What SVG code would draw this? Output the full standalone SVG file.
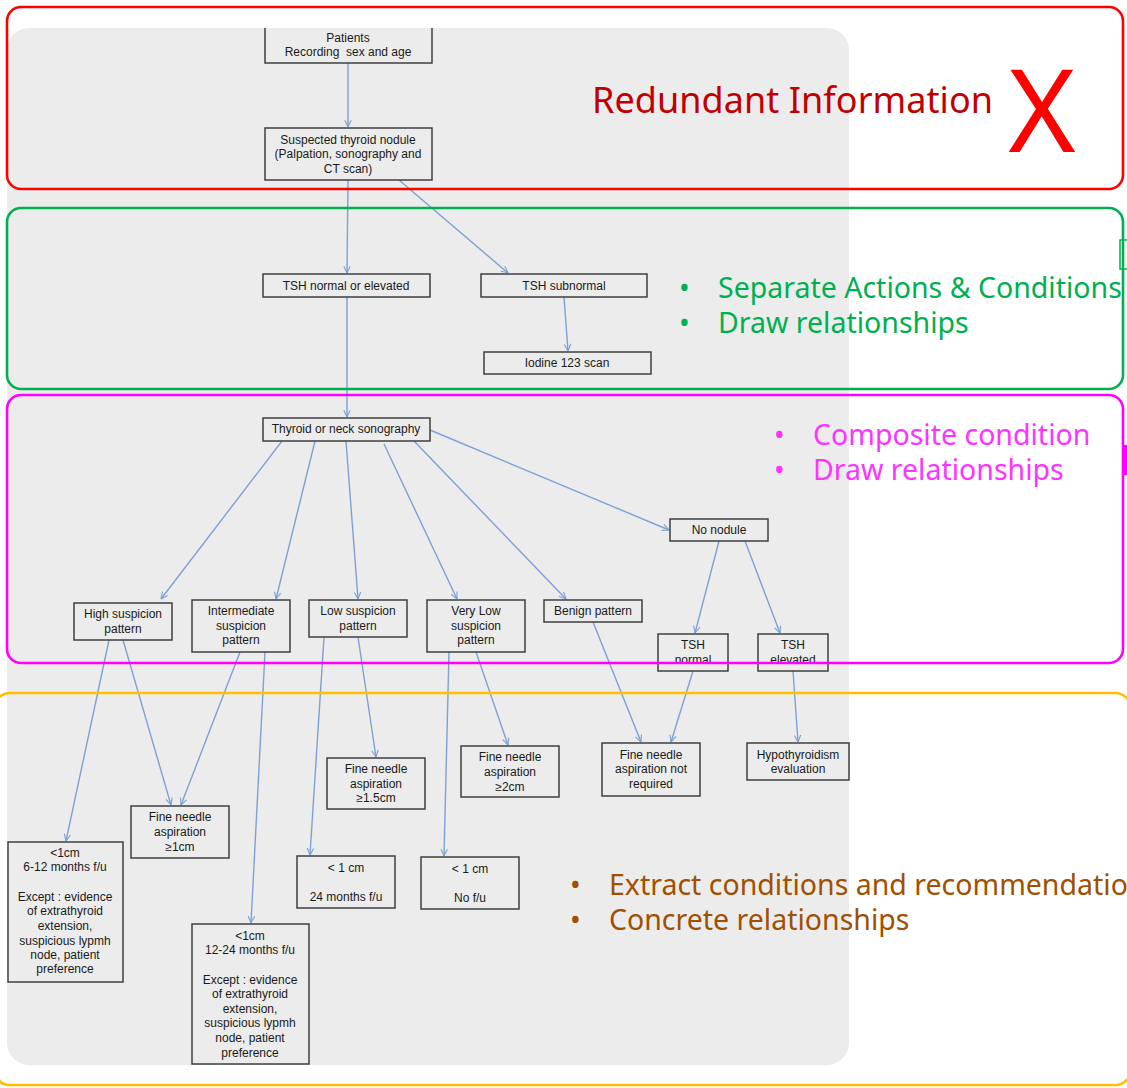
<svg xmlns="http://www.w3.org/2000/svg" width="1127" height="1088" viewBox="0 0 1127 1088">
  <style>
    .bg { fill: #ececec; }
    .node rect, .node path { fill: #ececec; stroke: #3f3f3f; stroke-width: 1.5; }
    .node text { font-family: "Liberation Sans", Arial, sans-serif; font-size: 12px; fill: #1a1a1a; text-anchor: middle; white-space: pre; }
    .edges line { stroke: #7ba2d6; stroke-width: 1.4; fill: none; marker-end: url(#arrow); }
    .frame { fill: none; stroke-width: 2.6; }
    .note { font-family: "Noto Sans", "Open Sans", sans-serif; font-size: 28.5px; }
  </style>
  <defs>
    <marker id="arrow" viewBox="0 0 10 10" refX="9.5" refY="5" markerWidth="8" markerHeight="8" markerUnits="userSpaceOnUse" orient="auto">
      <path d="M1,1 L9.5,5 L1,9" fill="none" stroke="#7ba2d6" stroke-width="1.4"/>
    </marker>
  </defs>

  <rect width="1127" height="1088" fill="#ffffff"/>
  <!-- flowchart backdrop -->
  <rect class="bg" x="7" y="28" width="842" height="1037" rx="22"/>

  <!-- connectors -->
  <g id="connectors" class="edges">
    <line x1="348" y1="63" x2="348" y2="127"/>
    <line x1="348" y1="180" x2="347" y2="273"/>
    <line x1="399" y1="180" x2="508" y2="273"/>
    <line x1="564" y1="297" x2="568" y2="351"/>
    <line x1="347" y1="297" x2="347" y2="417"/>
    <line x1="282" y1="441" x2="161" y2="599"/>
    <line x1="315" y1="441" x2="276" y2="599"/>
    <line x1="346" y1="441" x2="358" y2="599"/>
    <line x1="384" y1="444" x2="457" y2="599"/>
    <line x1="414" y1="441" x2="566" y2="599"/>
    <line x1="430" y1="430" x2="669" y2="530"/>
    <line x1="719" y1="541" x2="695" y2="633"/>
    <line x1="745" y1="541" x2="780" y2="633"/>
    <line x1="109" y1="640" x2="66" y2="841"/>
    <line x1="123" y1="640" x2="171" y2="805"/>
    <line x1="240" y1="652" x2="181" y2="805"/>
    <line x1="265" y1="652" x2="251" y2="923"/>
    <line x1="324" y1="637" x2="310" y2="855"/>
    <line x1="358" y1="637" x2="376" y2="757"/>
    <line x1="449" y1="652" x2="444" y2="856"/>
    <line x1="476" y1="652" x2="508" y2="745"/>
    <line x1="593" y1="622" x2="641" y2="742"/>
    <line x1="693" y1="671" x2="671" y2="742"/>
    <line x1="793" y1="671" x2="798" y2="742"/>
  </g>

  <!-- nodes -->
  <g id="patients" class="node">
    <path d="M265,28 V63 H432 V28"/>
    <text x="348" y="42">Patients</text>
    <text x="348" y="56">Recording  sex and age</text>
  </g>
  <g id="suspected" class="node">
    <rect x="265" y="128" width="167" height="52"/>
    <text x="348" y="144">Suspected thyroid nodule</text>
    <text x="348" y="158">(Palpation, sonography and</text>
    <text x="348" y="173">CT scan)</text>
  </g>
  <g id="tsh-normal-elevated" class="node">
    <rect x="263" y="274" width="167" height="23"/>
    <text x="346" y="290">TSH normal or elevated</text>
  </g>
  <g id="tsh-subnormal" class="node">
    <rect x="481" y="274" width="166" height="23"/>
    <text x="564" y="290">TSH subnormal</text>
  </g>
  <g id="iodine-scan" class="node">
    <rect x="484" y="352" width="167" height="22"/>
    <text x="567" y="367">Iodine 123 scan</text>
  </g>
  <g id="sonography" class="node">
    <rect x="263" y="418" width="167" height="23"/>
    <text x="346" y="433">Thyroid or neck sonography</text>
  </g>
  <g id="high" class="node">
    <rect x="74" y="603" width="98" height="37"/>
    <text x="123" y="618">High suspicion</text>
    <text x="123" y="633">pattern</text>
  </g>
  <g id="intermediate" class="node">
    <rect x="192" y="600" width="98" height="52"/>
    <text x="241" y="615">Intermediate</text>
    <text x="241" y="630">suspicion</text>
    <text x="241" y="644">pattern</text>
  </g>
  <g id="low" class="node">
    <rect x="309" y="600" width="98" height="37"/>
    <text x="358" y="615">Low suspicion</text>
    <text x="358" y="630">pattern</text>
  </g>
  <g id="very-low" class="node">
    <rect x="427" y="600" width="98" height="52"/>
    <text x="476" y="615">Very Low</text>
    <text x="476" y="630">suspicion</text>
    <text x="476" y="644">pattern</text>
  </g>
  <g id="benign" class="node">
    <rect x="544" y="600" width="98" height="22"/>
    <text x="593" y="615">Benign pattern</text>
  </g>
  <g id="no-nodule" class="node">
    <rect x="670" y="519" width="98" height="22"/>
    <text x="719" y="534">No nodule</text>
  </g>
  <g id="tsh-normal" class="node">
    <rect x="658" y="634" width="70" height="37"/>
    <text x="693" y="649">TSH</text>
    <text x="693" y="664">normal</text>
  </g>
  <g id="tsh-elevated" class="node">
    <rect x="758" y="634" width="70" height="37"/>
    <text x="793" y="649">TSH</text>
    <text x="793" y="664">elevated</text>
  </g>
  <g id="fna-1cm" class="node">
    <rect x="131" y="806" width="98" height="52"/>
    <text x="180" y="821">Fine needle</text>
    <text x="180" y="836">aspiration</text>
    <text x="180" y="851">≥1cm</text>
  </g>
  <g id="fna-1-5cm" class="node">
    <rect x="327" y="758" width="98" height="51"/>
    <text x="376" y="773">Fine needle</text>
    <text x="376" y="788">aspiration</text>
    <text x="376" y="802">≥1.5cm</text>
  </g>
  <g id="fna-2cm" class="node">
    <rect x="461" y="746" width="98" height="51"/>
    <text x="510" y="761">Fine needle</text>
    <text x="510" y="776">aspiration</text>
    <text x="510" y="791">≥2cm</text>
  </g>
  <g id="fna-not-required" class="node">
    <rect x="602" y="743" width="98" height="53"/>
    <text x="651" y="759">Fine needle</text>
    <text x="651" y="773">aspiration not</text>
    <text x="651" y="788">required</text>
  </g>
  <g id="hypothyroidism" class="node">
    <rect x="747" y="743" width="102" height="37"/>
    <text x="798" y="759">Hypothyroidism</text>
    <text x="798" y="773">evaluation</text>
  </g>
  <g id="fu-6-12" class="node">
    <rect x="8" y="842" width="115" height="140"/>
    <text x="65" y="857">&lt;1cm</text>
    <text x="65" y="871">6-12 months f/u</text>
    <text x="65" y="901">Except : evidence</text>
    <text x="65" y="915">of extrathyroid</text>
    <text x="65" y="930">extension,</text>
    <text x="65" y="945">suspicious lypmh</text>
    <text x="65" y="959">node, patient</text>
    <text x="65" y="973">preference</text>
  </g>
  <g id="fu-24" class="node">
    <rect x="297" y="856" width="98" height="52"/>
    <text x="346" y="872">&lt; 1 cm</text>
    <text x="346" y="901">24 months f/u</text>
  </g>
  <g id="no-fu" class="node">
    <rect x="421" y="857" width="98" height="52"/>
    <text x="470" y="873">&lt; 1 cm</text>
    <text x="470" y="902">No f/u</text>
  </g>
  <g id="fu-12-24" class="node">
    <rect x="192" y="924" width="117" height="140"/>
    <text x="250" y="940">&lt;1cm</text>
    <text x="250" y="954">12-24 months f/u</text>
    <text x="250" y="984">Except : evidence</text>
    <text x="250" y="998">of extrathyroid</text>
    <text x="250" y="1013">extension,</text>
    <text x="250" y="1027">suspicious lypmh</text>
    <text x="250" y="1042">node, patient</text>
    <text x="250" y="1057">preference</text>
  </g>

  <!-- annotation frames -->
  <g id="redundant">
    <rect class="frame" x="7" y="7" width="1116" height="182" rx="14" stroke="#ff0000"/>
    <text x="592" y="113" font-family="'Noto Sans', 'Open Sans', sans-serif" font-size="36" fill="#c00000" textLength="401">Redundant Information</text>
    <text x="1042" y="152" font-family="'Noto Sans', 'Open Sans', sans-serif" font-size="115" fill="#ff0000" text-anchor="middle">X</text>
  </g>
  <g id="separate">
    <rect class="frame" x="7" y="208" width="1116" height="181" rx="14" stroke="#00b050"/>
    <rect x="1120" y="240" width="8" height="29" fill="none" stroke="#00b050" stroke-width="1.5"/>
    <g class="note" fill="#00b050">
      <text x="679" y="298">•</text>
      <text x="718" y="298">Separate Actions &amp; Conditions</text>
      <text x="679" y="333">•</text>
      <text x="718" y="333">Draw relationships</text>
    </g>
  </g>
  <g id="composite">
    <rect class="frame" x="7" y="395" width="1116" height="268" rx="14" stroke="#ff00ff"/>
    <rect x="1124" y="445" width="4" height="30" fill="#ff00ff"/>
    <g class="note" fill="#ff33ff">
      <text x="774" y="445">•</text>
      <text x="813" y="445">Composite condition</text>
      <text x="774" y="480">•</text>
      <text x="813" y="480">Draw relationships</text>
    </g>
  </g>
  <g id="extract">
    <rect class="frame" x="-6" y="693" width="1137" height="392" rx="16" stroke="#ffc000"/>
    <g class="note" fill="#a05000">
      <text x="570" y="895">•</text>
      <text x="609" y="895">Extract conditions and recommendations</text>
      <text x="570" y="930">•</text>
      <text x="609" y="930">Concrete relationships</text>
    </g>
  </g>
</svg>
